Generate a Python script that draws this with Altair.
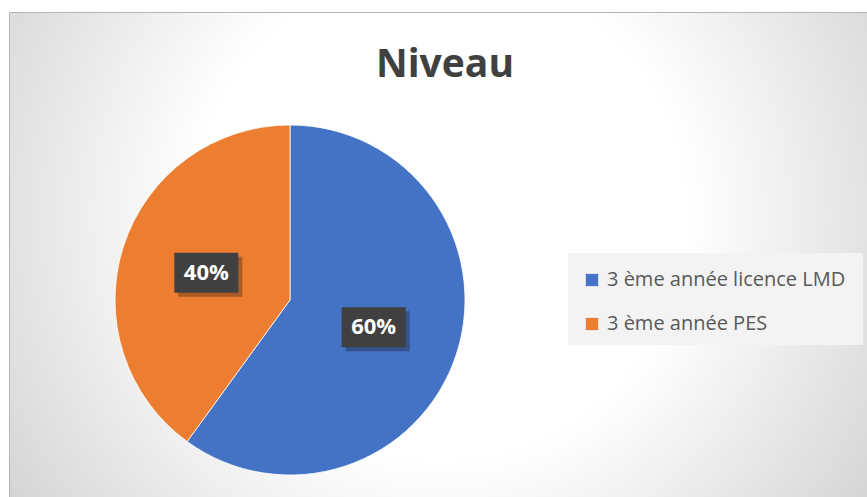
import altair as alt
import pandas as pd

categories = ["3 ème année licence LMD", "3 ème année PES"]
values = [60, 40]
labels = ["60%", "40%"]
colors = ["#4472C4", "#ED7D31"]

df = pd.DataFrame({"cat": categories, "value": values, "label": labels, "order": [0, 1]})

W, H = 867, 497
CX, CY, R = 290, 300, 175
LR = 88

one = alt.Data(values=[{"a": 1}])

bg = alt.Chart(one).mark_rect(
    fill=alt.Gradient(
        gradient="radial",
        stops=[
            alt.GradientStop(color="#ffffff", offset=0),
            alt.GradientStop(color="#ffffff", offset=0.40),
            alt.GradientStop(color="#c4c4c4", offset=1),
        ],
        x1=0.5, y1=0.45, r1=0, x2=0.5, y2=0.45, r2=0.72,
    ),
    stroke="#b4b4b4", strokeWidth=1,
).encode(x=alt.value(9.5), x2=alt.value(W + 5), y=alt.value(12.5), y2=alt.value(H + 5))

legend_bg = alt.Chart(one).mark_rect(fill="#f3f3f3").encode(
    x=alt.value(568), x2=alt.value(863), y=alt.value(253), y2=alt.value(345)
)

title = alt.Chart(one).mark_text(
    text="Niveau", font="Open Sans", fontWeight="bold", fontSize=39, color="#404040",
    baseline="middle", align="center",
).encode(x=alt.value(445), y=alt.value(65))

pie = alt.Chart(df).mark_arc(outerRadius=R, stroke="#ffffff", strokeWidth=0.8).encode(
    theta=alt.Theta("value:Q", stack=True),
    order=alt.Order("order:Q"),
    color=alt.Color(
        "cat:N",
        scale=alt.Scale(domain=categories, range=colors),
        legend=alt.Legend(
            title=None, orient="none", legendX=568, legendY=256, padding=14,
            symbolType="square", symbolSize=150, symbolStrokeWidth=0,
            labelFont="Open Sans", labelFontSize=20, labelColor="#595959",
            labelOffset=5, rowPadding=24, labelLimit=400,
        ),
    ),
    x=alt.value(CX), y=alt.value(CY),
)

pos = alt.Chart(df).transform_window(
    cum="sum(value)", sort=[alt.SortField("order")]
).transform_joinaggregate(total="sum(value)").transform_calculate(
    mid="(datum.cum - datum.value/2)/datum.total*2*PI"
).transform_calculate(
    px=f"{CX} + {LR}*sin(datum.mid)", py=f"{CY} - {LR}*cos(datum.mid)"
).transform_calculate(
    x1="datum.px - 32", x2="datum.px + 32", y1="datum.py - 20", y2="datum.py + 20",
    sx1="datum.px - 28", sx2="datum.px + 36", sy1="datum.py - 16", sy2="datum.py + 24",
)

shadow = pos.mark_rect(fill="#000000", opacity=0.28).encode(
    x=alt.X("sx1:Q", scale=None), x2="sx2:Q", y=alt.Y("sy1:Q", scale=None), y2="sy2:Q"
)
box = pos.mark_rect(fill="#404040").encode(
    x=alt.X("x1:Q", scale=None), x2="x2:Q", y=alt.Y("y1:Q", scale=None), y2="y2:Q"
)
txt = pos.mark_text(
    font="Open Sans", fontWeight="bold", fontSize=22, color="#ffffff", baseline="middle", align="center"
).encode(x=alt.X("px:Q", scale=None), y=alt.Y("py:Q", scale=None), text="label:N")

chart = alt.layer(bg, legend_bg, title, pie, shadow, box, txt).properties(
    width=W, height=H, autosize=alt.AutoSizeParams(type="none"), padding=0,
    background="#ffffff",
).configure_view(stroke=None)

chart.save("out.html", embed_options={"renderer": "svg", "actions": False})
